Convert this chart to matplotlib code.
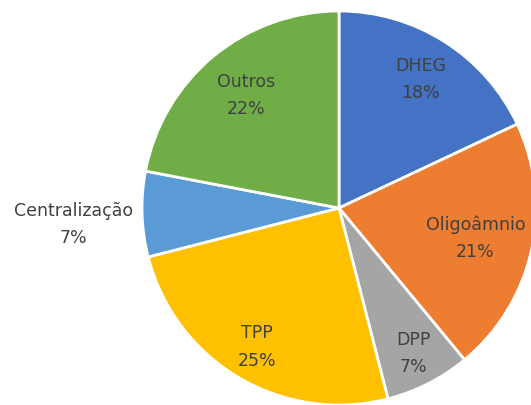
import numpy as np
import matplotlib.pyplot as plt

labels = ["DHEG", "Oligoâmnio", "DPP", "TPP", "Centralização", "Outros"]
values = [18, 21, 7, 25, 7, 22]
colors = ["#4472C4", "#ED7D31", "#A5A5A5", "#FFC000", "#5B9BD5", "#70AD47"]
# label placement: fraction of the radius and angle nudge (degrees)
label_dist = [0.77, 0.71, 0.83, 0.82, 1.35, 0.74]
label_turn = [0, 0, 0, 0, 1.8, 0]

fig = plt.figure(figsize=(5.31, 4.05), dpi=100)
ax = fig.add_axes([0, 0, 1, 1])

center = (339, 197)
radius = 197
wedges, _ = ax.pie(values, colors=colors, startangle=90, counterclock=False,
                   center=center, radius=radius, frame=True,
                   wedgeprops=dict(edgecolor="white", linewidth=2))
ax.set_xlim(0, 531)
ax.set_ylim(0, 405)
ax.set_aspect("equal")
ax.axis("off")

for w, lab, v, d, t in zip(wedges, labels, values, label_dist, label_turn):
    ang = np.deg2rad((w.theta1 + w.theta2) / 2 + t)
    x = center[0] + d * radius * np.cos(ang)
    y = center[1] + d * radius * np.sin(ang)
    ax.text(x, y, f"{lab}\n{v}%", ha="center", va="center", fontsize=12.5,
            color="#404040", linespacing=1.65)

fig.savefig("out.png", dpi=100)
